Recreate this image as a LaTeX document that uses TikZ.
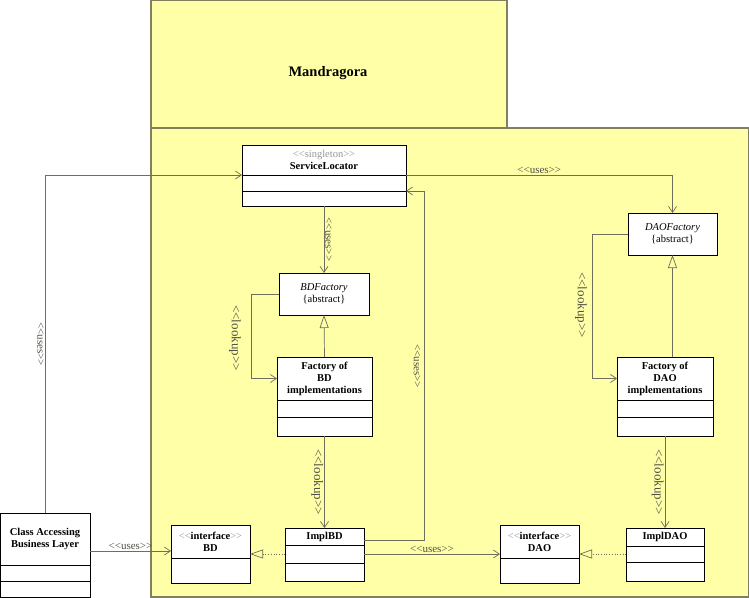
\documentclass[tikz,border=0pt]{standalone}
\usepackage{fontspec}
\setmainfont{Liberation Serif}
\usetikzlibrary{positioning}
\usetikzlibrary{arrows.meta}

\definecolor{pkgyellow}{RGB}{255,255,168}
\definecolor{pkgborder}{RGB}{128,128,96}
\definecolor{wiregray}{RGB}{110,110,92}
\definecolor{labelgray}{RGB}{80,80,70}
\definecolor{stereogray}{RGB}{150,150,150}

\newcommand{\stereo}[1]{\textless\kern0pt\textless#1\textgreater\kern0pt\textgreater}

\tikzset{
  pkg/.style={draw=pkgborder, line width=1.5pt, fill=pkgyellow},
  classhead/.style 2 args={draw, fill=white, line width=1pt, inner sep=0pt, outer sep=0pt,
    minimum width=#1pt, minimum height=#2pt, align=center, font=\fontsize{10.5}{12}\selectfont},
  compart/.style 2 args={draw, fill=white, line width=1pt, inner sep=0pt, outer sep=0pt,
    minimum width=#1pt, minimum height=#2pt},
  wire/.style={draw=wiregray, line width=0.7pt},
  uses/.style={wire, -{Straight Barb[length=6pt,width=8pt]}},
  inherits/.style={wire, -{Triangle[open,length=13pt,width=9pt]}},
  realizes/.style={wire, dotted, -{Triangle[open,length=13pt,width=9pt]}},
  wirelabel/.style={font=\fontsize{11}{12}\selectfont, text=labelgray, inner sep=1pt},
  lookuplabel/.style={font=\fontsize{13}{14}\selectfont, text=labelgray, inner sep=1pt}
}

\begin{document}
\begin{tikzpicture}[x=1pt,y=1pt]

    \useasboundingbox (0,0) rectangle (749,-597);

    % packages
    \path[pkg] (151,-128) rectangle (507,0);
    \path[pkg] (151,-597) rectangle (749,-128);
    \node (mandragora) at (328,-73) {\fontsize{14.5}{16}\selectfont\bfseries Mandragora};

    % classes
    \path   (324,-160) node (sl) [classhead={164}{30}] {{\color{stereogray}\stereo{singleton}}\\\textbf{ServiceLocator}}
            (324,-294) node (bdf) [classhead={90}{42}] {\textit{BDFactory}\\\{abstract\}}
            (324.5,-378.5) node (fbd) [classhead={95}{43}] {\textbf{Factory of}\\\textbf{BD}\\\textbf{implementations}}
            (672.5,-234) node (daof) [classhead={89}{42}] {\textit{DAOFactory}\\\{abstract\}}
            (665,-378.5) node (fdao) [classhead={96}{43}] {\textbf{Factory of}\\\textbf{DAO}\\\textbf{implementations}}
            (324.5,-536.5) node (implbd) [classhead={79}{17}] {\textbf{ImplBD}}
            (665,-537) node (impldao) [classhead={78}{18}] {\textbf{ImplDAO}}
            (210.5,-541.5) node (bd) [classhead={79}{33}] {{\color{stereogray}\stereo{\textcolor{black}{\textbf{interface}}}}\\\textbf{BD}}
            (539.5,-541.5) node (dao) [classhead={79}{33}] {{\color{stereogray}\stereo{\textcolor{black}{\textbf{interface}}}}\\\textbf{DAO}}
            (45,-539) node (cabl) [classhead={90}{52}] {\textbf{Class Accessing}\\\textbf{Business Layer}};

    \node (sla) [compart={164}{16}, below=0pt of sl] {};
    \node (slb) [compart={164}{15}, below=0pt of sla] {};
    \node (fbda) [compart={95}{17}, below=0pt of fbd] {};
    \node (fbdb) [compart={95}{19}, below=0pt of fbda] {};
    \node (fdaoa) [compart={96}{17}, below=0pt of fdao] {};
    \node (fdaob) [compart={96}{19}, below=0pt of fdaoa] {};
    \node (implbda) [compart={79}{18}, below=0pt of implbd] {};
    \node (implbdb) [compart={79}{18}, below=0pt of implbda] {};
    \node (impldaoa) [compart={78}{16}, below=0pt of impldao] {};
    \node (impldaob) [compart={78}{19}, below=0pt of impldaoa] {};
    \node (bda) [compart={79}{25}, below=0pt of bd] {};
    \node (daoa) [compart={79}{25}, below=0pt of dao] {};
    \node (cabla) [compart={90}{16}, below=0pt of cabl] {};
    \node (cablb) [compart={90}{16}, below=0pt of cabla] {};

    % connectors
    \draw[uses] (cabl.north) |- (sla.north west)
        node[wirelabel, pos=0.25, rotate=-90, anchor=north] {\stereo{uses}};
    \draw[uses] (sla.north east) -| (daof.north)
        node[wirelabel, pos=0.25, above] {\stereo{uses}};
    \draw[uses] (slb.south) -- (bdf.north)
        node[wirelabel, midway, rotate=-90, anchor=south] {\stereo{uses}};
    \draw[inherits] (fbd.north) -- (bdf.south);
    \draw[uses] (bdf.west) -- ++(-28,0) |- (fbd.west);
    \node[lookuplabel, rotate=-90] (lookupbd) at (235,-338) {\stereo{lookup}};
    \draw[uses] (fbdb.south) -- (implbd.north)
        node[lookuplabel, midway, rotate=-90, anchor=north] {\stereo{lookup}};
    \draw[uses] ([yshift=-4pt]implbd.east) -| ([xshift=18pt]sla.south east) -- (sla.south east);
    \node[wirelabel, rotate=-90] (usessl) at (417,-366) {\stereo{uses}};
    \draw[uses] (implbda.east) -- (implbda.east -| dao.west)
        node[wirelabel, midway, above] {\stereo{uses}};
    \draw[realizes] (implbda.west) -- (implbda.west -| bd.east);
    \draw[realizes] (impldaoa.west) -- (impldaoa.west -| dao.east);
    \draw[inherits] (fdao.north -| daof.south) -- (daof.south);
    \draw[uses] (daof.west) -- ++(-36,0) |- (fdao.west);
    \node[lookuplabel, rotate=-90] (lookupdao) at (581,-305) {\stereo{lookup}};
    \draw[uses] (fdaob.south) -- (impldao.north)
        node[lookuplabel, midway, rotate=-90, anchor=north] {\stereo{lookup}};
    \draw[uses] ([yshift=-12pt]cabl.east) -- ([yshift=-12pt]cabl.east -| bd.west)
        node[wirelabel, midway, above] {\stereo{uses}};

\end{tikzpicture}
\end{document}
